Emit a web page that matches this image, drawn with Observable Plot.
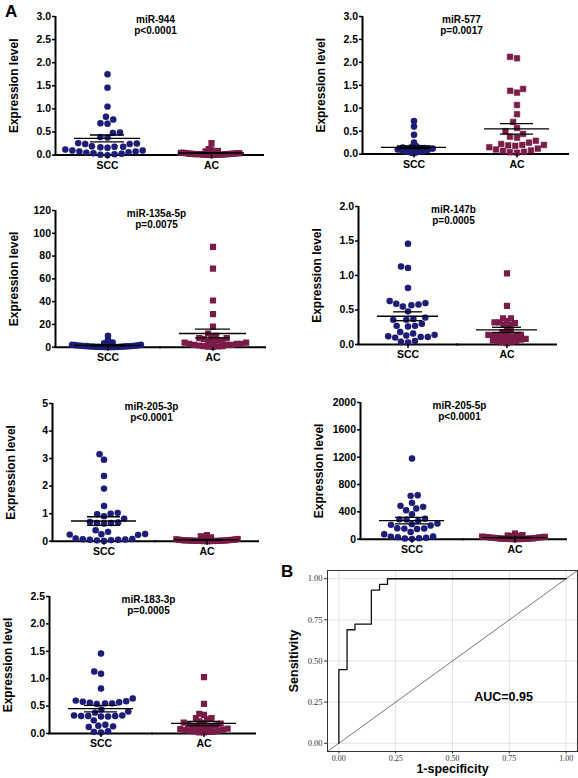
<!DOCTYPE html>
<html><head><meta charset="utf-8">
<script src="https://cdn.jsdelivr.net/npm/d3@7"></script>
<script src="https://cdn.jsdelivr.net/npm/@observablehq/plot@0.6"></script>
<style>
body{margin:0;background:#fff;}
#fig{position:relative;width:578px;height:778px;overflow:hidden;background:#fff;font-family:"Liberation Sans",Arial,sans-serif;}
.panel{position:absolute;}
.tag{position:absolute;font-weight:bold;font-size:17px;line-height:1;}
</style></head><body><div id="fig"></div>
<script>
// ---------- data ----------
const groups = ["SCC", "AC"];
const mirNames = ["miR-944", "miR-577", "miR-135a-5p", "miR-147b", "miR-205-3p", "miR-205-5p", "miR-183-3p"];
const pLabels = ["p<0.0001", "p=0.0017", "p=0.0075", "p=0.0005", "p<0.0001", "p<0.0001", "p=0.0005"];
const yMax = [3, 3, 120, 2, 5, 2000, 2.5];
const yTickLists = [
  [0, 0.5, 1, 1.5, 2, 2.5, 3],
  [0, 0.5, 1, 1.5, 2, 2.5, 3],
  [0, 20, 40, 60, 80, 100, 120],
  [0, 0.5, 1, 1.5, 2],
  [0, 1, 2, 3, 4, 5],
  [0, 400, 800, 1200, 1600, 2000],
  [0, 0.5, 1, 1.5, 2, 2.5]
];
const yTickFormats = [".1f", ".1f", "d", ".1f", "d", "d", ".1f"];

const scc944 = [1.75,1.46,1.05,0.83,0.77,0.69,0.68,0.49,0.48,0.39,0.38,0.26,0.25,0.24,0.24,0.19,0.18,0.18,0.17,0.16,0.12,0.10,0.10,0.08,0.08,0.06,0.05,0.04,0.03,0.02,0.01,0.0];
const ac944 = [0.26,0.13,0.12,0.09,0.08,0.07,0.06,0.06,0.05,0.05,0.04,0.04,0.04,0.03,0.03,0.03,0.03,0.02,0.02,0.02,0.02,0.02,0.01,0.01,0.01,0.01,0.01,0.005,0.005,0.0];
const scc577 = [0.72,0.60,0.42,0.25,0.17,0.15,0.14,0.14,0.13,0.13,0.12,0.12,0.12,0.11,0.11,0.10,0.10,0.10,0.09,0.09,0.08,0.08,0.07,0.07,0.06,0.05,0.05,0.04,0.03,0.02];
const ac577 = [2.12,2.09,1.42,1.38,1.34,1.07,0.87,0.70,0.57,0.50,0.44,0.38,0.36,0.29,0.25,0.22,0.20,0.20,0.19,0.18,0.15,0.12,0.10,0.08,0.07,0.05,0.04,0.03];
const scc135a = [10,6.5,4,3.5,3,2.5,2.2,2,1.8,1.6,1.5,1.3,1.2,1,1,0.9,0.8,0.7,0.6,0.5,0.5,0.4,0.3,0.3,0.2,0.2,0.1,0.1,0.1,0.05];
const ac135a = [88,69,41,29,18,12,10,9,8,8,7,6,6,5,5,4,4,3,3,3,2,2,2,1.5,1,1,0.8,0.5,0.3];
const scc147b = [1.46,1.13,1.11,0.82,0.63,0.60,0.59,0.58,0.57,0.55,0.48,0.39,0.37,0.36,0.36,0.30,0.27,0.27,0.26,0.18,0.16,0.14,0.13,0.12,0.11,0.11,0.10,0.05,0.04,0.03];
const ac147b = [1.03,0.56,0.38,0.38,0.34,0.32,0.32,0.31,0.29,0.29,0.24,0.20,0.18,0.16,0.14,0.14,0.13,0.13,0.12,0.11,0.10,0.09,0.08,0.07,0.06,0.05,0.05,0.04,0.03,0.02];
const scc2053p = [3.16,2.96,2.37,1.91,1.28,1.03,1.0,0.98,0.91,0.82,0.70,0.68,0.66,0.66,0.64,0.40,0.34,0.26,0.25,0.24,0.23,0.10,0.08,0.07,0.06,0.05,0.05,0.04,0.03,0.01];
const ac2053p = [0.22,0.18,0.14,0.12,0.10,0.09,0.08,0.07,0.06,0.05,0.05,0.04,0.04,0.03,0.03,0.03,0.02,0.02,0.02,0.02,0.01,0.01,0.01,0.01,0.01,0.005,0.005,0.0,0.0];
const scc2055p = [1180,644,634,532,488,473,449,424,366,298,290,288,268,230,220,210,200,160,156,155,150,107,73,40,35,30,20,15,10,5];
const ac2055p = [83,60,55,50,45,42,40,38,35,32,30,28,25,22,20,18,15,12,10,9,8,6,5,4,3,2,2,1,1];
const scc1833p = [1.46,1.13,1.09,0.82,0.64,0.60,0.59,0.58,0.57,0.56,0.55,0.55,0.54,0.44,0.40,0.38,0.33,0.33,0.32,0.32,0.32,0.31,0.31,0.24,0.16,0.14,0.13,0.12,0.04,0.03,0.02];
const ac1833p = [1.03,0.54,0.36,0.34,0.28,0.28,0.26,0.22,0.20,0.19,0.18,0.16,0.15,0.14,0.13,0.12,0.11,0.10,0.09,0.08,0.07,0.06,0.05,0.05,0.04,0.03,0.03,0.02,0.02];

const sccSeries = [scc944, scc577, scc135a, scc147b, scc2053p, scc2055p, scc1833p];
const acSeries = [ac944, ac577, ac135a, ac147b, ac2053p, ac2055p, ac1833p];

// ROC curve (1-specificity, sensitivity)
const rocFpr = [0, 0, 0.036, 0.071, 0.143, 0.179, 0.214, 1.0];
const rocTpr = [0, 0.448, 0.690, 0.724, 0.931, 0.966, 1.0, 1.0];
const rocTicks = [0, 0.25, 0.5, 0.75, 1];
const aucText = "AUC=0.95";

// ---------- style / layout ----------
const navy = "#1d1d78", maroon = "#7a1c48";
const boxes = [
  {l: 55, r: 263, t: 15.7, b: 154.3},
  {l: 360.7, r: 568, t: 15.7, b: 153.3},
  {l: 55, r: 265, t: 210, b: 346.7},
  {l: 358.3, r: 557, t: 206, b: 344},
  {l: 51.7, r: 258, t: 403.3, b: 541},
  {l: 360, r: 566.7, t: 402.3, b: 539},
  {l: 48.3, r: 256, t: 595.7, b: 732.7}
];
// collision radius per group [SCC, AC]
const collide = [[3.2,1.3],[1.3,3.2],[1.4,2.3],[3.2,2.3],[3.2,1.3],[3.2,1.4],[3.2,2.3]];
const ML = 60, MR = 12, MT = 12, MB = 30;
const fig = document.getElementById("fig");
const baseStyle = {fontFamily: "'Liberation Sans', Arial, sans-serif", fontWeight: "bold", fontSize: "10.5px", color: "#000", background: "transparent", overflow: "visible"};

function place(node, left, top) {
  node.classList.add("panel");
  node.style.left = left + "px";
  node.style.top = top + "px";
  fig.appendChild(node);
}

function makePanel(i) {
  const box = boxes[i];
  const scc = d3.sort(sccSeries[i]).map(v => ({group: "SCC", value: v}));
  const ac = d3.sort(acSeries[i]).map(v => ({group: "AC", value: v}));
  const summary = [scc, ac].map(rows => {
    const v = rows.map(d => d.value);
    const m = d3.mean(v), se = d3.deviation(v) / Math.sqrt(v.length);
    return {group: rows[0].group, mean: m, lo: m - se, hi: m + se};
  });
  const [rS, rA] = collide[i];
  const padS = rS < 3 ? 0.2 : 0.7, padA = rA < 3 ? 0.2 : 0.7;
  const swS = Math.max(0, 2 * (3.3 - rS));
  const swA = Math.max(0, 6.2 - 1.772 * rA);
  const W = box.r - box.l + ML + MR, H = box.b - box.t + MT + MB;
  const chart = Plot.plot({
    width: W, height: H, marginLeft: ML, marginRight: MR, marginTop: MT, marginBottom: MB,
    style: baseStyle,
    fx: {domain: groups, padding: 0, label: null},
    x: {domain: [0, 1], axis: null},
    y: {domain: [0, yMax[i]]},
    marks: [
      Plot.ruleY([0], {strokeWidth: 2, strokeLinecap: "square"}),
      Plot.ruleX([0], {x: d => d, fx: () => "SCC", strokeWidth: 2}),
      Plot.dot(scc, Plot.dodgeX({anchor: "middle", padding: padS}, {fx: "group", y: "value", r: rS, symbol: "circle", fill: navy, stroke: navy, strokeWidth: swS})),
      Plot.dot(ac, Plot.dodgeX({anchor: "middle", padding: padA}, {fx: "group", y: "value", r: rA, symbol: "square", fill: maroon, stroke: maroon, strokeWidth: swA})),
      Plot.ruleY(summary, {fx: "group", y: "mean", insetLeft: 19, insetRight: 19, strokeWidth: 1.3}),
      Plot.ruleY(summary, {fx: "group", y: "hi", insetLeft: 35, insetRight: 35, strokeWidth: 1.3}),
      Plot.ruleY(summary, {fx: "group", y: "lo", insetLeft: 35, insetRight: 35, strokeWidth: 1.3}),
      Plot.ruleX(summary, {fx: "group", y1: "lo", y2: "hi", strokeWidth: 1.3}),
      Plot.axisY({ticks: yTickLists[i], tickFormat: d3.format(yTickFormats[i]), tickSize: 3, tickPadding: 1.5, strokeWidth: 1.5, fontWeight: "bold", label: null}),
      Plot.axisFx({anchor: "bottom", tickSize: 4, tickPadding: 2, strokeWidth: 1.5, fontWeight: "bold", label: null}),
      Plot.text([mirNames[i] + "\n" + pLabels[i]], {fx: () => "SCC", frameAnchor: "top-right", dx: -4, dy: 8.5, textAnchor: "middle", lineAnchor: "middle", lineHeight: 1.15, fontSize: 10, fontWeight: "bold"}),
      Plot.text(["Expression level"], {fx: () => "SCC", frameAnchor: "left", rotate: -90, dx: -41, textAnchor: "middle", lineAnchor: "middle", fontSize: 12, fontWeight: "bold"})
    ]
  });
  place(chart, box.l - ML, box.t - MT);
}

for (let i = 0; i < 7; i++) makePanel(i);

// ROC panel
const roc = rocFpr.map((f, k) => ({fpr: f, tpr: rocTpr[k]}));
const diagonal = [-0.05, 1.05];
const serif = "'Liberation Serif', 'DejaVu Serif', serif";
const rocChart = Plot.plot({
  width: 298, height: 218, marginLeft: 47, marginRight: 1, marginTop: 10, marginBottom: 27,
  style: {fontFamily: "'Liberation Sans', Arial, sans-serif", fontSize: "10px", color: "#000", background: "transparent", overflow: "visible"},
  x: {domain: [-0.05, 1.05]},
  y: {domain: [-0.05, 1.05]},
  marks: [
    Plot.gridX(rocTicks, {stroke: "#e2e2e2", strokeOpacity: 1}),
    Plot.gridY(rocTicks, {stroke: "#e2e2e2", strokeOpacity: 1}),
    Plot.line(diagonal, {x: d => d, y: d => d, stroke: "#555", strokeWidth: 0.8, clip: true}),
    Plot.line(roc, {x: "fpr", y: "tpr", curve: "step-after", stroke: "#111", strokeWidth: 1.3}),
    Plot.frame({stroke: "#333", strokeWidth: 1}),
    Plot.axisX({ticks: rocTicks, tickFormat: d3.format(".2f"), tickSize: 2.5, tickPadding: 1, fontFamily: serif, fontSize: 8, stroke: "#333", fill: "#333", label: null}),
    Plot.axisY({ticks: rocTicks, tickFormat: d3.format(".2f"), tickSize: 3, tickPadding: 2, fontFamily: serif, fontSize: 8.5, stroke: "#333", fill: "#333", label: null}),
    Plot.text([aucText], {frameAnchor: "bottom-right", dx: -74, dy: -51, textAnchor: "middle", fontSize: 12.5, fontWeight: "bold"}),
    Plot.text(["1-specificity"], {frameAnchor: "bottom", dy: 21.5, textAnchor: "middle", fontSize: 12.5, fontWeight: "bold"}),
    Plot.text(["Sensitivity"], {frameAnchor: "left", rotate: -90, dx: -34, textAnchor: "middle", fontSize: 12.5, fontWeight: "bold"})
  ]
});
place(rocChart, 280, 560);

// panel tags
for (const [t, l, tp] of [["A", 5, 3], ["B", 281, 563]]) {
  const d = document.createElement("div");
  d.className = "tag"; d.textContent = t;
  d.style.left = l + "px"; d.style.top = tp + "px";
  fig.appendChild(d);
}
</script></body></html>
